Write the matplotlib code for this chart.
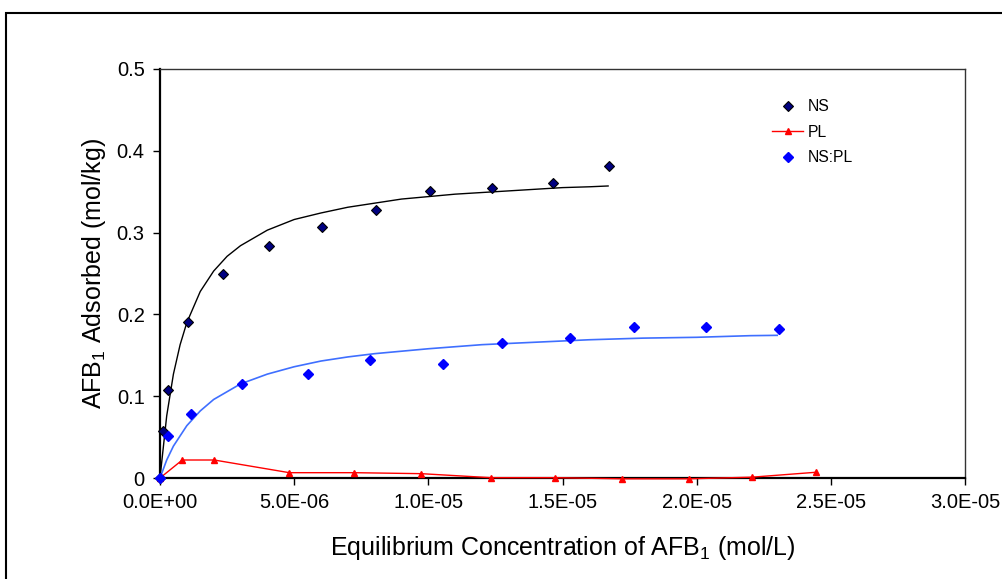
import matplotlib
matplotlib.use("Agg")
import matplotlib.pyplot as plt
import numpy as np
from matplotlib.patches import Rectangle
from matplotlib.ticker import FuncFormatter, MultipleLocator

plt.rcParams['font.family'] = ['Liberation Sans', 'DejaVu Sans']
plt.rcParams['mathtext.fontset'] = 'custom'
plt.rcParams['mathtext.rm'] = 'Liberation Sans'
plt.rcParams['mathtext.it'] = 'Liberation Sans:italic'

# concentrations in units of 1e-6 mol/L, adsorbed in mol/kg
ns_conc = [0.0, 0.10, 0.31, 1.04, 2.34, 4.06, 6.05, 8.05, 10.05, 12.36, 14.64, 16.73]
ns_ads = [0.0, 0.057, 0.108, 0.191, 0.249, 0.284, 0.307, 0.328, 0.351, 0.355, 0.361, 0.381]

pl_conc = [0.0, 0.83, 2.02, 4.82, 7.23, 9.73, 12.32, 14.73, 17.2, 19.7, 22.06, 24.44]
pl_ads = [0.0, 0.022, 0.022, 0.0065, 0.0065, 0.0053, 0.0004, 0.0004, -0.001, -0.001, 0.001, 0.007]

nspl_conc = [0.0, 0.31, 1.14, 3.04, 5.52, 7.81, 10.55, 12.75, 15.28, 17.65, 20.35, 23.05]
nspl_ads = [0.0, 0.051, 0.078, 0.115, 0.127, 0.144, 0.139, 0.165, 0.171, 0.185, 0.185, 0.182]

# fitted curves
ns_fit_conc = [0, 0.25, 0.5, 0.75, 1, 1.5, 2, 2.5, 3, 4, 5, 6, 7, 8, 9, 10, 11, 12, 13, 14, 15, 16, 16.7]
ns_fit_ads = [0, 0.076, 0.127, 0.163, 0.190, 0.228, 0.253, 0.271, 0.284, 0.303, 0.316, 0.324, 0.331,
              0.336, 0.341, 0.344, 0.347, 0.349, 0.351, 0.353, 0.355, 0.356, 0.357]

nspl_fit_conc = [0, 0.25, 0.5, 1, 1.5, 2, 3, 4, 5, 6, 7, 8, 10, 12, 14, 16, 18, 20, 22, 23]
nspl_fit_ads = [0, 0.022, 0.039, 0.064, 0.082, 0.096, 0.115, 0.127, 0.136, 0.143, 0.148, 0.152,
                0.158, 0.163, 0.166, 0.169, 0.171, 0.172, 0.174, 0.1744]

scale = 1e-6

fig = plt.figure(figsize=(10.03, 5.79), dpi=100)
ax = fig.add_axes([160 / 1003, 101 / 579, 805 / 1003, 409 / 579])

ax.plot(np.array(ns_fit_conc) * scale, ns_fit_ads, color='black', lw=1, zorder=2)
ax.plot(np.array(nspl_fit_conc) * scale, nspl_fit_ads, color='#3f6fff', lw=1.2, zorder=2)

ax.plot(np.array(ns_conc) * scale, ns_ads, 'D', ms=5, mfc='#000080', mec='black', mew=0.8,
        label='NS', clip_on=False, zorder=4)
ax.plot(np.array(pl_conc) * scale, pl_ads, '-^', color='#ff0000', lw=1, ms=5,
        label='PL', clip_on=False, zorder=3)
ax.plot(np.array(nspl_conc) * scale, nspl_ads, 'D', ms=5, mfc='#0000ff', mec='#0000ff',
        label='NS:PL', clip_on=False, zorder=4)

ax.set_xlim(0, 3e-5)
ax.set_ylim(0, 0.5)
ax.xaxis.set_major_locator(MultipleLocator(5e-6))
ax.yaxis.set_major_locator(MultipleLocator(0.1))
ax.xaxis.set_major_formatter(FuncFormatter(lambda v, p: f"{v:.1E}"))
ax.yaxis.set_major_formatter(FuncFormatter(lambda v, p: '0' if abs(v) < 1e-9 else f"{v:.1f}"))
ax.tick_params(direction='out', length=5, width=1, labelsize=14.5, colors='black', pad=6)

for side in ['left', 'bottom']:
    ax.spines[side].set_linewidth(1.6)
    ax.spines[side].set_color('black')
for side in ['top', 'right']:
    ax.spines[side].set_linewidth(1)
    ax.spines[side].set_color('#333333')

ax.set_xlabel(r'Equilibrium Concentration of AFB$_1$ (mol/L)', fontsize=18, labelpad=16)
ax.set_ylabel(r'AFB$_1$ Adsorbed (mol/kg)', fontsize=18, labelpad=6)

ax.legend(loc='upper left', bbox_to_anchor=(772 / 1003, 1 - 99 / 579),
          bbox_transform=fig.transFigure, frameon=False, fontsize=11.3,
          handlelength=2.0, handletextpad=0.25, labelspacing=0.68,
          borderpad=0, borderaxespad=0)

fig.patches.append(Rectangle((6 / 1003, -0.1), 1.1, 1 - 13 / 579 + 0.1, transform=fig.transFigure,
                             fill=False, ec='black', lw=1.5, figure=fig))

fig.savefig('out.png', dpi=100, facecolor='white')
